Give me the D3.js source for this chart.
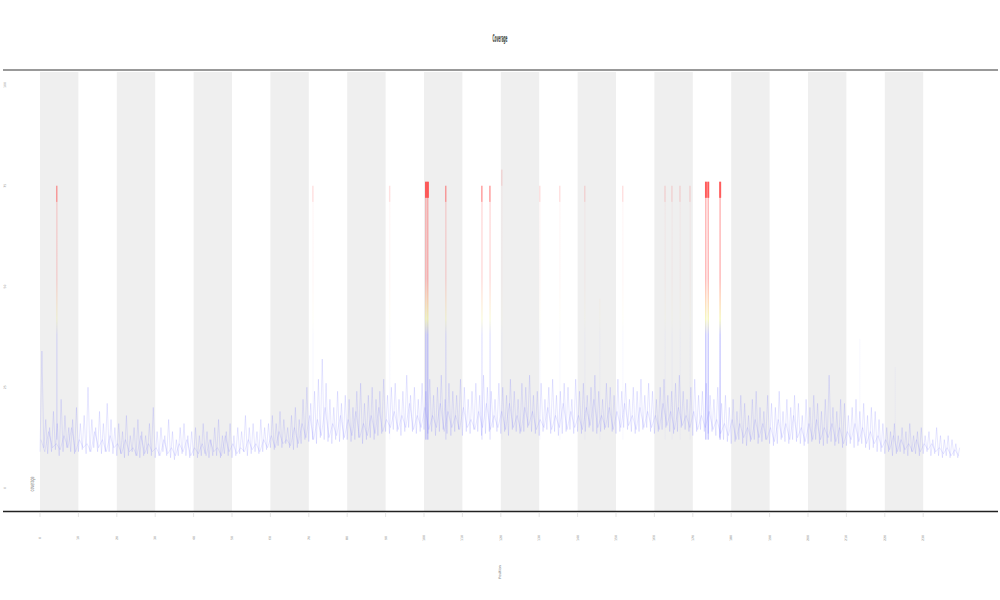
<!DOCTYPE html>
<html><head><meta charset="utf-8">
<script src="https://cdn.jsdelivr.net/npm/d3@7"></script>
<style>body{margin:0;background:#fff}svg{display:block}</style>
</head><body>
<svg id="c" width="1000" height="600"></svg>
<script>
// ---- data ----
const chartTitle = "Coverage";
const xTitle = "Position";
const legendText = "coverage";
const xTicks = d3.range(0, 231, 10);
const yTicks = [0, 25, 50, 75, 100];
const bandStarts = [0, 20, 40, 60, 80, 100, 120, 140, 160, 180, 200, 220];
const troughs = [
 9,10,8.5,9,9.5,8,9,10,9,8.5,9,9.5,8.5,9,10,9,8.5,9,9,8.5,
 8,8.5,7.5,8,9,8,7.5,8,8.5,8,7.5,8,9,8,7.5,7,8,8.5,8,7.5,
 8,7.5,8,8.5,7.5,8,8,7.5,8.5,8,7.5,8,8.5,9,8,8.5,9,8.5,9,9.5,
 10,9.5,10.5,10,11,10,9.5,10,11,12,11.5,12,11,12.5,12,11.5,11,12,11.5,12,
 12,11.5,12,12.5,11,12,12.5,12,13,13.5,14,13.5,14.5,14,13,14,15,14,13.5,14,
 14.5,13.5,14,13,14,14.5,13.5,13,14,14.5,13,14,13.5,14.5,14,13,13.5,14,15,14,
 13.5,14,13,14.5,14,13.5,14,15,14,13.5,13,14,14.5,13.5,14,13,13.5,14,14.5,13.5,
 14,13.5,14,15,14,13.5,14,14.5,15,14,13.5,14,15,14.5,14,13.5,14,14.5,15,14,
 13.5,14,14.5,15,14,13.5,14,15,14.5,14,13,14,14.5,14,13.5,14,13,12.5,12,11.5,
 11,11.5,12,11,10.5,11.5,12,11,11.5,12,11,10.5,11,12,11.5,11,12,11.5,11,10.5,
 11,11.5,12,11,10.5,11,11.5,10.5,11,10,10.5,11,10,10.5,11,10,9.5,10,9,9,
 8.5,9,8,8.5,9,8.5,8,9,8.5,8,8.5,9,8,8.5,8,7.5,8,7.5,8,7.5];
const peaks = [
 34,17,15,19,16,22,18,15,17,20,16,18,25,17,15,19,16,21,17,15,
 16,14,18,13,15,17,14,13,16,20,14,15,13,17,14,12,15,16,13,14,
 15,13,16,14,12,15,17,13,14,16,13,15,14,18,15,16,14,17,15,16,
 18,16,19,17,15,18,20,17,22,25,21,24,27,32,26,22,20,24,21,23,
 22,20,24,26,21,23,25,22,24,27,23,25,26,22,24,28,23,25,22,26,
 24,27,23,25,28,22,26,24,23,27,25,22,24,26,23,28,25,24,22,26,
 25,23,27,24,22,26,25,28,23,24,26,22,25,27,23,24,26,25,22,27,
 24,26,23,25,28,24,22,26,25,23,27,24,26,22,25,24,27,23,26,24,
 22,25,27,23,24,26,28,24,22,25,27,23,24,26,23,22,25,21,23,20,
 22,19,23,21,18,22,24,20,19,23,21,20,24,19,22,20,23,21,18,22,
 20,23,21,19,22,28,20,19,22,21,18,20,22,19,21,18,20,19,17,16,
 15,14,16,13,15,14,16,13,14,15,13,14,12,15,13,12,13,12,11,10];
const sampleB = [
 12,9,14,10,11,9.5,13,10,15,9,12,10,11,9,14,10,12,9,13,10,
 11,8.5,12,9,10,8,13,8.5,11,9,10,8,12,8.5,10,8,11,9,12,8,
 10,8.5,11,8,12,9,10,8,13,9,11,8.5,10,9,12,9.5,11,9,12,10,
 13,10,14,11,12,10.5,15,11,16,12.5,18,12,17,13,20,12.5,16,13,18,12.5,
 17,13,19,12.5,16,13,18,13.5,20,14,17,15,19,14.5,18,15,21,14.5,18,15,
 20,14.5,18,15,21,14,19,15,18,14.5,20,15,17,14.5,19,15,21,14.5,18,15,
 19,14.5,21,15,18,14,20,15.5,19,14.5,17,15,20,14.5,18,15,21,14.5,19,15,
 18,14.5,20,15.5,22,15,18,15,20,14.5,19,15,21,15.5,18,14.5,20,15,19,15,
 18,14.5,21,15.5,19,14.5,20,15.5,18,15,19,14.5,18,15,19,14.5,17,13.5,16,13,
 17,12,16,12.5,15,12,17,12.5,16,12,15,11.5,17,12.5,16,12,18,12.5,15,11.5,
 16,12,17,12,15,12.5,16,11.5,15,11,14,12,16,11.5,15,11,14,11,13,10,
 12,9.5,13,9,12,9.5,11,9,12,9,11,9.5,11,9,10,8.5,10,8,9.5,8];
const spikeX   = [4.4, 71.1, 91.1, 100.5, 101, 105.7, 115.1, 117.2, 120.3, 130.2, 135.4, 141.9, 145.8, 151.8, 162.8, 164.6, 166.7, 169.3, 173.4, 174, 177.1, 213.5, 222.7];
const spikeTop = [75, 75, 75, 76, 76, 75, 75, 75, 79, 75, 75, 75, 47, 75, 75, 75, 75, 75, 76, 76, 76, 37, 30];
const spikeCount=[3, 1, 1, 6, 6, 3, 3, 3, 1, 1, 1, 1, 1, 1, 1, 1, 1, 1, 6, 6, 6, 1, 1];

// ---- drawing ----
const svg = d3.select("#c");
const x = d3.scaleLinear().domain([0, 240]).range([40, 961.6]);
const y = d3.scaleLinear().domain([0, 100]).range([488, 85]);
const plotTop = 72, plotBottom = 511;

svg.append("g").selectAll("rect").data(bandStarts).join("rect")
  .attr("x", d => x(d)).attr("width", d => x(d + 10) - x(d))
  .attr("y", plotTop).attr("height", plotBottom - plotTop)
  .attr("fill", "#efefef");

svg.append("line").attr("x1", 3).attr("x2", 998).attr("y1", 70).attr("y2", 70)
  .attr("stroke", "#999").attr("stroke-width", 2);
svg.append("line").attr("x1", 3).attr("x2", 998).attr("y1", 511.5).attr("y2", 511.5)
  .attr("stroke", "#222").attr("stroke-width", 1.5);

const defs = svg.append("defs");
const grad = defs.append("linearGradient").attr("id", "vg")
  .attr("gradientUnits", "userSpaceOnUse")
  .attr("x1", 0).attr("x2", 0).attr("y1", y(0)).attr("y2", y(100));
[[0, "#6a6aff"], [0.38, "#6a6aff"], [0.42, "#e6e640"], [0.47, "#ff8a3a"], [0.52, "#ff3333"], [1, "#ff2020"]]
  .forEach(([o, c]) => grad.append("stop").attr("offset", o).attr("stop-color", c));

const xa = svg.append("g");
xa.selectAll("line").data(xTicks).join("line")
  .attr("x1", d => x(d)).attr("x2", d => x(d)).attr("y1", 512).attr("y2", 517)
  .attr("stroke", "#d4d4d4").attr("stroke-width", 0.6);
xa.selectAll("text").data(xTicks).join("text")
  .attr("transform", d => `translate(${x(d) + 1},538) rotate(-90)`)
  .attr("text-anchor", "middle").attr("font-family", "DejaVu Sans").attr("font-size", 3.2)
  .attr("fill", "#888").text(d => d);

svg.append("g").selectAll("text").data(yTicks).join("text")
  .attr("transform", d => `translate(6,${y(d)}) rotate(-90)`)
  .attr("text-anchor", "middle").attr("font-family", "DejaVu Sans").attr("font-size", 3.2)
  .attr("fill", "#999").text(d => d);

const line = d3.line().x(d => x(d[0])).y(d => y(d[1]));
// sample B (second overlaid sample)
svg.append("path").datum(sampleB.map((v, i) => [i + 0.25, v])).attr("d", line)
  .attr("fill", "none").attr("stroke", "url(#vg)").attr("stroke-width", 0.5)
  .attr("stroke-opacity", 0.3);
// main series: troughs/peaks
const pts = [];
troughs.forEach((t, i) => { pts.push([i, t]); pts.push([i + 0.5, peaks[i]]); });
svg.append("path").datum(pts).attr("d", line)
  .attr("fill", "none").attr("stroke", "url(#vg)").attr("stroke-width", 0.5)
  .attr("stroke-opacity", 0.32);

// spikes
const op = d3.scaleLinear().domain([1, 6]).range([0.08, 0.5]);
const capOp = d3.scaleLinear().domain([1, 6]).range([0.12, 0.75]);
const sp = svg.append("g");
spikeX.forEach((sx, i) => {
  sp.append("line").attr("x1", x(sx)).attr("x2", x(sx))
    .attr("y1", y(12)).attr("y2", y(spikeTop[i]))
    .attr("stroke", "url(#vg)").attr("stroke-width", spikeCount[i] > 2 ? 1 : 0.7)
    .attr("stroke-opacity", op(spikeCount[i]));
  sp.append("rect").attr("x", x(sx) - 0.9).attr("width", spikeCount[i] > 4 ? 2 : 1.4)
    .attr("y", y(spikeTop[i])).attr("height", spikeTop[i] > 60 ? y(spikeTop[i] - 4) - y(spikeTop[i]) : 0)
    .attr("fill", "#ff3b3b").attr("fill-opacity", capOp(spikeCount[i]));
});

svg.append("text").attr("x", 500).attr("y", 42).attr("text-anchor", "middle")
  .attr("font-family", "DejaVu Sans").attr("font-weight", "bold").attr("font-size", 10)
  .attr("textLength", 15).attr("lengthAdjust", "spacingAndGlyphs").attr("fill", "#444").text(chartTitle);
svg.append("text").attr("transform", "translate(501,572) rotate(-90)").attr("text-anchor", "middle")
  .attr("font-family", "DejaVu Sans").attr("font-size", 3.5).attr("fill", "#888").text(xTitle);
svg.append("text").attr("transform", "translate(34,484) rotate(-90)").attr("text-anchor", "middle")
  .attr("font-family", "DejaVu Sans").attr("font-size", 6)
  .attr("textLength", 15).attr("lengthAdjust", "spacingAndGlyphs").attr("fill", "#777").text(legendText);
</script>
</body></html>
